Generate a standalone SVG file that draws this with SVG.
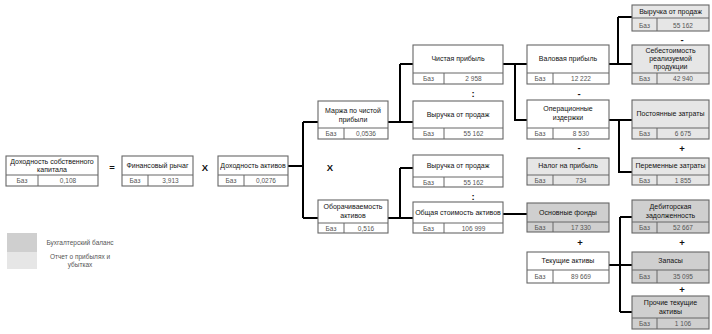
<svg xmlns="http://www.w3.org/2000/svg" width="712" height="334" viewBox="0 0 712 334">
<style>
.box{fill:#ffffff;stroke:#666;stroke-width:1.1}
.bal{fill:#cfcfcf;stroke:#666;stroke-width:1.1}
.pl{fill:#e6e6e6;stroke:#666;stroke-width:1.1}
.sep{stroke:#666;stroke-width:1;fill:none}
.h{font-family:"Liberation Sans",Arial,sans-serif;font-size:7px;fill:#111;text-anchor:middle}
.v{font-family:"Liberation Sans",Arial,sans-serif;font-size:6.5px;fill:#555;text-anchor:middle}
.s{font-family:"Liberation Sans",Arial,sans-serif;font-size:9.5px;font-weight:bold;fill:#111;text-anchor:middle}
.c{stroke:#000;stroke-width:2;fill:none}
.lg{font-family:"Liberation Sans",Arial,sans-serif;font-size:6.5px;fill:#555;text-anchor:middle}
</style>

<g id="connectors">
<path class="c" d="M288,166H303M303,122V218M303,122H318M303,218H318"/>
<path class="c" d="M388,122H413M400,64V122M400,64H413"/>
<path class="c" d="M388,218H413M400,168V218M400,168H413"/>
<path class="c" d="M503,64H527M515,64V120H527"/>
<path class="c" d="M503,214H527"/>
<path class="c" d="M609,64H632M618,17V64M618,17H632"/>
<path class="c" d="M609,120H632M619,120V172H632"/>
<path class="c" d="M609,265H632M620,217V312M620,217H632M620,312H632"/>
</g>

<g id="n-roe">
<rect class="box" x="6" y="156" width="92" height="30"/>
<path class="sep" d="M6,175H98M38,175V186"/>
<text class="h" x="52" y="164">Доходность собственного</text>
<text class="h" x="52" y="172">капитала</text>
<text class="v" x="22" y="183">Баз</text><text class="v" x="68" y="183">0,108</text>
</g>

<g id="n-fin">
<rect class="box" x="122" y="156" width="71" height="30"/>
<path class="sep" d="M122,175H193M148,175V186"/>
<text class="h" x="157.5" y="168">Финансовый рычаг</text>
<text class="v" x="135" y="183">Баз</text><text class="v" x="170.5" y="183">3,913</text>
</g>

<g id="n-roa">
<rect class="box" x="218" y="156" width="70" height="30"/>
<path class="sep" d="M218,175H288M244,175V186"/>
<text class="h" x="253" y="168">Доходность активов</text>
<text class="v" x="231" y="183">Баз</text><text class="v" x="266" y="183">0,0276</text>
</g>

<g id="n-margin">
<rect class="box" x="318" y="101" width="70" height="38"/>
<path class="sep" d="M318,128H388M344,128V139"/>
<text class="h" x="353" y="113">Маржа по чистой</text>
<text class="h" x="353" y="122">прибыли</text>
<text class="v" x="331" y="136">Баз</text><text class="v" x="366" y="136">0,0536</text>
</g>

<g id="n-turn">
<rect class="box" x="318" y="200" width="70" height="33"/>
<path class="sep" d="M318,223H388M344,223V233"/>
<text class="h" x="353" y="209">Оборачиваемость</text>
<text class="h" x="353" y="218">активов</text>
<text class="v" x="331" y="231">Баз</text><text class="v" x="366" y="231">0,516</text>
</g>

<g id="n-np">
<rect class="box" x="413" y="45" width="90" height="39"/>
<path class="sep" d="M413,73H503M444,73V84"/>
<text class="h" x="458" y="61">Чистая прибыль</text>
<text class="v" x="428.5" y="81">Баз</text><text class="v" x="473.5" y="81">2 958</text>
</g>

<g id="n-rev1">
<rect class="box" x="413" y="101" width="90" height="38"/>
<path class="sep" d="M413,128H503M444,128V139"/>
<text class="h" x="458" y="117">Выручка от продаж</text>
<text class="v" x="428.5" y="136">Баз</text><text class="v" x="473.5" y="136">55 162</text>
</g>

<g id="n-rev2">
<rect class="box" x="413" y="155" width="90" height="32"/>
<path class="sep" d="M413,177H503M444,177V187"/>
<text class="h" x="458" y="168">Выручка от продаж</text>
<text class="v" x="428.5" y="185">Баз</text><text class="v" x="473.5" y="185">55 162</text>
</g>

<g id="n-assets">
<rect class="box" x="413" y="202" width="90" height="31"/>
<path class="sep" d="M413,223H503M444,223V233"/>
<text class="h" x="458" y="215">Общая стоимость активов</text>
<text class="v" x="428.5" y="231">Баз</text><text class="v" x="473.5" y="231">106 999</text>
</g>

<g id="n-gross">
<rect class="box" x="527" y="45" width="82" height="39"/>
<path class="sep" d="M527,73H609M553,73V84"/>
<text class="h" x="568" y="61">Валовая прибыль</text>
<text class="v" x="540" y="81">Баз</text><text class="v" x="581" y="81">12 222</text>
</g>

<g id="n-opex">
<rect class="box" x="527" y="100" width="82" height="39"/>
<path class="sep" d="M527,128H609M553,128V139"/>
<text class="h" x="568" y="111">Операционные</text>
<text class="h" x="568" y="120">издержки</text>
<text class="v" x="540" y="136">Баз</text><text class="v" x="581" y="136">8 530</text>
</g>

<g id="n-tax">
<rect class="pl" x="527" y="158" width="82" height="27"/>
<path class="sep" d="M527,175H609M553,175V185"/>
<text class="h" x="568" y="168">Налог на прибыль</text>
<text class="v" x="540" y="183">Баз</text><text class="v" x="581" y="183">734</text>
</g>

<g id="n-fixed">
<rect class="bal" x="527" y="203" width="82" height="29"/>
<path class="sep" d="M527,222H609M553,222V232"/>
<text class="h" x="568" y="215">Основные фонды</text>
<text class="v" x="540" y="230">Баз</text><text class="v" x="581" y="230">17 330</text>
</g>

<g id="n-current">
<rect class="box" x="527" y="252" width="82" height="31"/>
<path class="sep" d="M527,270H609M553,270V283"/>
<text class="h" x="568" y="263">Текущие активы</text>
<text class="v" x="540" y="279">Баз</text><text class="v" x="581" y="279">89 669</text>
</g>

<g id="n-rev3">
<rect class="pl" x="632" y="5" width="77" height="26"/>
<path class="sep" d="M632,18H709M657,18V31"/>
<text class="h" x="670.5" y="14">Выручка от продаж</text>
<text class="v" x="644.5" y="28">Баз</text><text class="v" x="683" y="28">55 162</text>
</g>

<g id="n-cogs">
<rect class="pl" x="632" y="45" width="77" height="39"/>
<path class="sep" d="M632,73H709M657,73V84"/>
<text class="h" x="670.5" y="53">Себестоимость</text>
<text class="h" x="670.5" y="61">реализуемой</text>
<text class="h" x="670.5" y="69">продукции</text>
<text class="v" x="644.5" y="81">Баз</text><text class="v" x="683" y="81">42 940</text>
</g>

<g id="n-fixcost">
<rect class="pl" x="632" y="100" width="77" height="39"/>
<path class="sep" d="M632,128H709M657,128V139"/>
<text class="h" x="670.5" y="116">Постоянные затраты</text>
<text class="v" x="644.5" y="136">Баз</text><text class="v" x="683" y="136">6 675</text>
</g>

<g id="n-varcost">
<rect class="pl" x="632" y="158" width="77" height="27"/>
<path class="sep" d="M632,175H709M657,175V185"/>
<text class="h" x="670.5" y="168">Переменные затраты</text>
<text class="v" x="644.5" y="183">Баз</text><text class="v" x="683" y="183">1 855</text>
</g>

<g id="n-recv">
<rect class="bal" x="632" y="200" width="77" height="33"/>
<path class="sep" d="M632,222H709M657,222V233"/>
<text class="h" x="670.5" y="209">Дебиторская</text>
<text class="h" x="670.5" y="218">задолженность</text>
<text class="v" x="644.5" y="230">Баз</text><text class="v" x="683" y="230">52 667</text>
</g>

<g id="n-inv">
<rect class="bal" x="632" y="252" width="77" height="31"/>
<path class="sep" d="M632,270H709M657,270V283"/>
<text class="h" x="670.5" y="263">Запасы</text>
<text class="v" x="644.5" y="279">Баз</text><text class="v" x="683" y="279">35 095</text>
</g>

<g id="n-other">
<rect class="bal" x="632" y="296" width="77" height="33"/>
<path class="sep" d="M632,318H709M657,318V329"/>
<text class="h" x="670.5" y="305">Прочие текущие</text>
<text class="h" x="670.5" y="314">активы</text>
<text class="v" x="644.5" y="326">Баз</text><text class="v" x="683" y="326">1 106</text>
</g>

<g id="signs">
<text class="s" x="112" y="171">=</text>
<text class="s" x="205" y="171">X</text>
<text class="s" x="330" y="171">X</text>
<text class="s" x="473" y="97">:</text>
<text class="s" x="473" y="200">:</text>
<text class="s" x="579" y="97">-</text>
<text class="s" x="579" y="151">-</text>
<text class="s" x="580" y="246">+</text>
<text class="s" x="682" y="43">-</text>
<text class="s" x="682" y="152">+</text>
<text class="s" x="682" y="246">+</text>
<text class="s" x="682" y="293">+</text>
</g>

<g id="legend">
<rect x="7" y="233" width="30" height="19" fill="#cfcfcf"/>
<rect x="7" y="252" width="30" height="17" fill="#e6e6e6"/>
<text class="lg" x="80" y="245">Бухгалтерский баланс</text>
<text class="lg" x="80" y="259">Отчет о прибылях и</text>
<text class="lg" x="80" y="267">убытках</text>
</g>
</svg>
